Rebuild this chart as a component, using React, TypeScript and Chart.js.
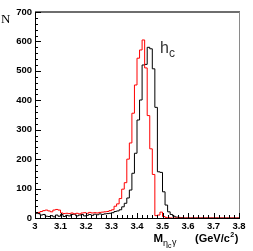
import React, { useEffect, useRef } from "react";
import { Chart, registerables } from "chart.js";

Chart.register(...registerables);

// Histogram binning (GeV/c^2)
const BIN_START = 3.0;
const BIN_WIDTH = 0.01;

// Red histogram counts per bin (3.00 .. 3.79)
const redCounts = [
  18, 19, 22, 25, 27, 24, 21, 27, 29, 27,
  17, 15, 16, 15, 17, 14, 16, 14, 17, 18,
  16, 19, 17, 18, 17, 19, 20, 21, 22, 25,
  28, 40, 48, 66, 98, 120, 200, 255, 356, 452,
  543, 571, 605, 510, 348, 235, 148, 8, 10, 20,
  5, 2, 1, 0, 0, 0, 0, 0, 0, 0,
  0, 0, 0, 0, 0, 0, 0, 0, 0, 0,
  0, 0, 0, 0, 0, 0, 0, 0, 0, 0,
];

// Black histogram counts per bin (3.00 .. 3.79)
const blackCounts = [
  16, 15, 10, 12, 6, 5, 8, 4, 10, 6,
  12, 5, 9, 7, 12, 13, 7, 10, 12, 7,
  9, 12, 9, 13, 11, 14, 12, 14, 15, 16,
  18, 22, 24, 28, 38, 50, 68, 95, 152, 220,
  333, 401, 520, 522, 580, 575, 507, 376, 157, 155,
  89, 44, 21, 12, 6, 3, 2, 1, 0, 0,
  0, 0, 0, 0, 0, 0, 0, 0, 0, 0,
  0, 0, 0, 0, 0, 0, 0, 0, 0, 0,
];

const xTickValues = [3, 3.1, 3.2, 3.3, 3.4, 3.5, 3.6, 3.7, 3.8];
const yTickValues = [0, 100, 200, 300, 400, 500, 600, 700];

function toSteps(counts: number[]) {
  const pts = counts.map((c, i) => ({ x: BIN_START + i * BIN_WIDTH, y: c }));
  pts.push({ x: BIN_START + counts.length * BIN_WIDTH, y: counts[counts.length - 1] });
  return pts;
}

const decorPlugin = {
  id: "decor",
  afterDraw(chart: any) {
    const { ctx, chartArea } = chart;
    const xs = chart.scales.x;
    const ys = chart.scales.y;
    const { left, right, top, bottom } = chartArea;
    ctx.save();
    // frame
    ctx.strokeStyle = "#6e6e6e";
    ctx.lineWidth = 2;
    ctx.beginPath();
    ctx.moveTo(left, top);
    ctx.lineTo(right + 1, top);
    ctx.stroke();
    ctx.strokeStyle = "#8a8a8a";
    ctx.lineWidth = 1;
    ctx.beginPath();
    ctx.moveTo(right + 0.5, top);
    ctx.lineTo(right + 0.5, bottom);
    ctx.stroke();

    // ticks
    ctx.strokeStyle = "#000";
    ctx.lineWidth = 1;
    ctx.beginPath();
    for (let k = 0; k <= 40; k++) {
      const v = 3 + k * 0.02;
      const px = Math.round(xs.getPixelForValue(v)) + 0.5;
      const len = k % 5 === 0 ? 5 : 3;
      ctx.moveTo(px, bottom);
      ctx.lineTo(px, bottom - len);
    }
    for (let k = 0; k <= 35; k++) {
      const v = k * 20;
      const py = Math.round(ys.getPixelForValue(v)) + 0.5;
      const len = k % 5 === 0 ? 6 : 3;
      ctx.moveTo(left, py);
      ctx.lineTo(left + len, py);
    }
    ctx.stroke();

    // N label
    ctx.fillStyle = "#000";
    ctx.textBaseline = "alphabetic";
    ctx.textAlign = "left";
    ctx.font = '13px "Liberation Serif"';
    ctx.fillText("N", 1, 23);

    // h_c label
    ctx.fillStyle = "#333";
    ctx.font = '16px "Liberation Sans"';
    ctx.fillText("h", 160, 53);
    ctx.font = '12px "Liberation Sans"';
    ctx.fillText("c", 169, 57);

    // x title
    ctx.fillStyle = "#000";
    ctx.font = 'bold 11.5px "Liberation Sans"';
    ctx.fillText("M", 153.5, 242);
    ctx.font = '9px "Liberation Sans"';
    ctx.fillText("\u03b7", 163, 246);
    ctx.font = '7px "Liberation Sans"';
    ctx.fillText("c", 168, 248);
    ctx.font = '9px "Liberation Sans"';
    ctx.fillText("\u03b3", 172, 245);

    ctx.font = 'bold 11px "Liberation Sans"';
    const t1 = "(GeV/c";
    ctx.fillText(t1, 195, 242);
    let w = ctx.measureText(t1).width;
    ctx.font = 'bold 7px "Liberation Sans"';
    ctx.fillText("2", 195 + w + 0.5, 236.5);
    const w2 = ctx.measureText("2").width;
    ctx.font = 'bold 11px "Liberation Sans"';
    ctx.fillText(")", 195 + w + w2 + 1, 242);
    ctx.restore();
  },
};

export default function App() {
  const ref = useRef<HTMLCanvasElement | null>(null);
  useEffect(() => {
    document.body.style.margin = "0";
    if (!ref.current) return;
    const chart = new Chart(ref.current, {
      type: "line",
      data: {
        datasets: [
          {
            label: "red",
            data: toSteps(redCounts),
            borderColor: "#ff0000",
            borderWidth: 1,
            pointRadius: 0,
            stepped: "before",
            fill: false,
          },
          {
            label: "black",
            data: toSteps(blackCounts),
            borderColor: "#000000",
            borderWidth: 1,
            pointRadius: 0,
            stepped: "before",
            fill: false,
          },
        ],
      },
      options: {
        animation: false,
        responsive: false,
        devicePixelRatio: 1,
        layout: { padding: { top: 12, right: 14, left: 0, bottom: 0 } },
        plugins: { legend: { display: false }, tooltip: { enabled: false } },
        scales: {
          x: {
            type: "linear",
            min: 3,
            max: 3.8,
            afterFit: (s: any) => {
              s.height = 33;
            },
            afterBuildTicks: (s: any) => {
              s.ticks = xTickValues.map((v) => ({ value: v }));
            },
            ticks: {
              autoSkip: false,
              maxRotation: 0,
              padding: 3,
              color: "#000",
              font: { family: "Liberation Sans", size: 9.5, weight: "bold" },
              callback: (v: any) => {
                const n = Number(v);
                return Math.abs(n - Math.round(n)) < 1e-9 ? String(Math.round(n)) : n.toFixed(1);
              },
            },
            grid: { display: false, drawTicks: false },
            border: { display: true, color: "#000", width: 1 },
          },
          y: {
            min: 0,
            max: 700,
            afterFit: (s: any) => {
              s.width = 35;
            },
            afterBuildTicks: (s: any) => {
              s.ticks = yTickValues.map((v) => ({ value: v }));
            },
            ticks: {
              autoSkip: false,
              padding: 3,
              color: "#000",
              font: { family: "Liberation Sans", size: 9.5, weight: "bold" },
            },
            grid: { display: false, drawTicks: false },
            border: { display: true, color: "#000", width: 1 },
          },
        },
      },
      plugins: [decorPlugin],
    });
    return () => chart.destroy();
  }, []);
  return (
    <div style={{ position: "absolute", left: 0, top: 0, width: 253, height: 251, background: "#fff" }}>
      <canvas ref={ref} width={253} height={251} />
    </div>
  );
}
